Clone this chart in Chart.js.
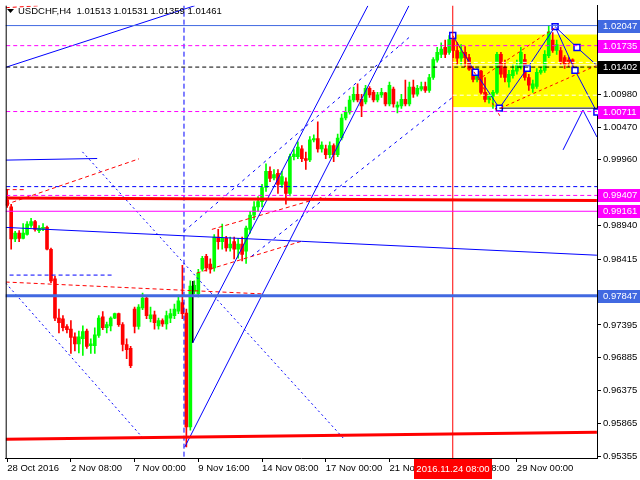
<!DOCTYPE html>
<html>
<head>
<meta charset="utf-8">
<script src="https://cdn.jsdelivr.net/npm/chart.js@4.4.0/dist/chart.umd.min.js"></script>
<style>
  html, body { margin: 0; padding: 0; background: #fff; }
</style>
</head>
<body>
<canvas id="chart" width="640" height="480"></canvas>
<script>
const symbolName = 'USDCHF,H4';

const opens = [
  0.9934, 0.9923, 0.9873, 0.9882, 0.9874, 0.9880, 0.9894, 0.9900, 0.9886, 0.9888,
  0.9891, 0.9857, 0.9811, 0.9750, 0.9749, 0.9737, 0.9733, 0.9721, 0.9710, 0.9718,
  0.9730, 0.9707, 0.9707, 0.9723, 0.9752, 0.9735, 0.9738, 0.9750, 0.9757, 0.9740,
  0.9709, 0.9703, 0.9764, 0.9737, 0.9766, 0.9781, 0.9749, 0.9755, 0.9738, 0.9746,
  0.9741, 0.9750, 0.9754, 0.9761, 0.9774, 0.9758, 0.9581, 0.9792, 0.9788, 0.9826,
  0.9846, 0.9834, 0.9828, 0.9876, 0.9869, 0.9874, 0.9859, 0.9869, 0.9857, 0.9865,
  0.9854, 0.9888, 0.9910, 0.9923, 0.9931, 0.9953, 0.9978, 0.9968, 0.9975, 0.9958,
  0.9962, 0.9944, 1.0001, 1.0001, 1.0013, 0.9998, 0.9996, 1.0027, 1.0029, 1.0013,
  1.0013, 1.0004, 1.0018, 1.0004, 1.0030, 1.0061, 1.0070, 1.0089, 1.0098, 1.0090,
  1.0086, 1.0107, 1.0101, 1.0089, 1.0097, 1.0100, 1.0083, 1.0106, 1.0078, 1.0080,
  1.0090, 1.0083, 1.0109, 1.0098, 1.0106, 1.0110, 1.0104, 1.0124, 1.0151, 1.0160,
  1.0171, 1.0163, 1.0183, 1.0166, 1.0154, 1.0163, 1.0155, 1.0137, 1.0121, 1.0134,
  1.0101, 1.0090, 1.0095, 1.0101, 1.0160, 1.0140, 1.0117, 1.0127, 1.0134, 1.0140,
  1.0152, 1.0124, 1.0107, 1.0110, 1.0132, 1.0135, 1.0158, 1.0182, 1.0166, 1.0166,
  1.0155, 1.0151, 1.01513
];
const highs = [
  0.9950, 0.9927, 0.9885, 0.9886, 0.9897, 0.9900, 0.9905, 0.9902, 0.9894, 0.9897,
  0.9893, 0.9859, 0.9815, 0.9764, 0.9754, 0.9740, 0.9746, 0.9727, 0.9730, 0.9738,
  0.9733, 0.9718, 0.9735, 0.9754, 0.9760, 0.9744, 0.9752, 0.9758, 0.9758, 0.9743,
  0.9718, 0.9706, 0.9767, 0.9771, 0.9789, 0.9783, 0.9767, 0.9761, 0.9750, 0.9749,
  0.9761, 0.9764, 0.9772, 0.9786, 0.9832, 0.9764, 0.9808, 0.9808, 0.9826, 0.9846,
  0.9849, 0.9842, 0.9880, 0.9888, 0.9896, 0.9877, 0.9876, 0.9876, 0.9874, 0.9876,
  0.9893, 0.9916, 0.9931, 0.9939, 0.9958, 0.9990, 0.9985, 0.9981, 0.9981, 0.9978,
  0.9968, 1.0005, 1.0012, 1.0024, 1.0018, 1.0008, 1.0032, 1.0035, 1.0055, 1.0024,
  1.0019, 1.0024, 1.0021, 1.0036, 1.0067, 1.0078, 1.0095, 1.0109, 1.0114, 1.0098,
  1.0112, 1.0110, 1.0104, 1.0101, 1.0107, 1.0101, 1.0117, 1.0109, 1.0086, 1.0098,
  1.0120, 1.0117, 1.0120, 1.0112, 1.0117, 1.0117, 1.0129, 1.0155, 1.0171, 1.0178,
  1.0182, 1.0189, 1.0191, 1.0178, 1.0175, 1.0172, 1.0160, 1.0141, 1.0138, 1.0135,
  1.0124, 1.0098, 1.0104, 1.0163, 1.0163, 1.0151, 1.0135, 1.0144, 1.0151, 1.0171,
  1.0160, 1.0129, 1.0120, 1.0138, 1.0140, 1.0166, 1.0205, 1.0194, 1.0182, 1.0171,
  1.0158, 1.0155, 1.01531
];
const lows = [
  0.9922, 0.9857, 0.9869, 0.9869, 0.9873, 0.9879, 0.9891, 0.9885, 0.9883, 0.9886,
  0.9856, 0.9805, 0.9746, 0.9727, 0.9730, 0.9727, 0.9695, 0.9699, 0.9696, 0.9692,
  0.9703, 0.9695, 0.9695, 0.9720, 0.9732, 0.9727, 0.9730, 0.9749, 0.9737, 0.9699,
  0.9687, 0.9673, 0.9727, 0.9733, 0.9763, 0.9749, 0.9744, 0.9733, 0.9733, 0.9737,
  0.9733, 0.9743, 0.9749, 0.9757, 0.9749, 0.9550, 0.9576, 0.9788, 0.9783, 0.9823,
  0.9823, 0.9820, 0.9823, 0.9857, 0.9857, 0.9854, 0.9854, 0.9842, 0.9843, 0.9839,
  0.9835, 0.9882, 0.9903, 0.9916, 0.9923, 0.9947, 0.9962, 0.9965, 0.9944, 0.9953,
  0.9927, 0.9940, 0.9996, 0.9998, 0.9993, 0.9981, 0.9993, 1.0024, 1.0008, 1.0008,
  0.9998, 0.9999, 0.9993, 1.0001, 1.0027, 1.0058, 1.0067, 1.0086, 1.0086, 1.0063,
  1.0083, 1.0093, 1.0086, 1.0086, 1.0093, 1.0080, 1.0080, 1.0078, 1.0069, 1.0076,
  1.0080, 1.0080, 1.0093, 1.0095, 1.0103, 1.0101, 1.0101, 1.0121, 1.0148, 1.0155,
  1.0155, 1.0160, 1.0155, 1.0144, 1.0143, 1.0141, 1.0135, 1.0117, 1.0117, 1.0098,
  1.0086, 1.0084, 1.0076, 1.0098, 1.0124, 1.0117, 1.0109, 1.0123, 1.0129, 1.0137,
  1.0120, 1.0104, 1.0101, 1.0107, 1.0129, 1.0132, 1.0155, 1.0163, 1.0160, 1.0144,
  1.0138, 1.0141, 1.01359
];
const closes = [
  0.9925, 0.9873, 0.9882, 0.9874, 0.9882, 0.9896, 0.9900, 0.9888, 0.9890, 0.9891,
  0.9857, 0.9808, 0.9750, 0.9743, 0.9735, 0.9732, 0.9720, 0.9710, 0.9721, 0.9729,
  0.9706, 0.9710, 0.9724, 0.9750, 0.9735, 0.9740, 0.9750, 0.9757, 0.9740, 0.9709,
  0.9701, 0.9676, 0.9737, 0.9767, 0.9781, 0.9754, 0.9755, 0.9743, 0.9746, 0.9741,
  0.9754, 0.9757, 0.9764, 0.9777, 0.9757, 0.9581, 0.9800, 0.9801, 0.9820, 0.9843,
  0.9828, 0.9826, 0.9876, 0.9869, 0.9874, 0.9859, 0.9865, 0.9857, 0.9865, 0.9849,
  0.9890, 0.9910, 0.9923, 0.9931, 0.9953, 0.9978, 0.9967, 0.9973, 0.9958, 0.9970,
  0.9944, 1.0001, 1.0005, 1.0016, 0.9998, 0.9995, 1.0027, 1.0029, 1.0013, 1.0019,
  1.0004, 1.0018, 1.0004, 1.0030, 1.0061, 1.0070, 1.0089, 1.0098, 1.0089, 1.0080,
  1.0107, 1.0097, 1.0089, 1.0097, 1.0101, 1.0083, 1.0112, 1.0083, 1.0081, 1.0090,
  1.0083, 1.0109, 1.0098, 1.0107, 1.0110, 1.0104, 1.0124, 1.0152, 1.0163, 1.0168,
  1.0160, 1.0183, 1.0166, 1.0154, 1.0163, 1.0155, 1.0137, 1.0121, 1.0134, 1.0101,
  1.0090, 1.0095, 1.0101, 1.0160, 1.0129, 1.0124, 1.0129, 1.0135, 1.0143, 1.0163,
  1.0124, 1.0112, 1.0114, 1.0132, 1.0135, 1.0160, 1.0195, 1.0166, 1.0175, 1.0148,
  1.0144, 1.0148, 1.01461
];

// time axis: bar index of each label
const xTickIdx = [0, 16, 32, 48, 64, 80, 96, 112, 128];
const xTickLabels = ['28 Oct 2016', '2 Nov 08:00', '7 Nov 00:00', '9 Nov 16:00', '14 Nov 08:00',
  '17 Nov 00:00', '21 Nov 16:00', '24 Nov 08:00', '29 Nov 00:00'];
const yTickValues = [1.00980, 1.00470, 0.99960, 0.98940, 0.98415, 0.97395, 0.96885, 0.96375, 0.95865, 0.95355];
const priceRange = [0.95326, 1.02356];
const barRange = [-0.375, 148.125];

// marked price levels shown in boxes on the price axis
const levelBlue = [1.02047, 0.97847];
const levelMagenta = [1.01735, 1.00711, 0.99407, 0.99161];
const levelBlack = [1.01402];
const selectedBar = 112;
const selectedLabel = '2016.11.24 08:00';

// drawn objects, [bar index, price]
const zoneBox = [[111.9, 1.01908], [150, 1.00780]];
const zigMain = [[111.9, 1.01892], [117.6, 1.01321], [123.6, 1.00764], [130.6, 1.01382], [137.6, 1.02031], [142.6, 1.01351], [148.1, 1.00703]];
const zigAlt = [[137.6, 1.02031], [143.1, 1.01707], [148.1, 1.01429]];
const zigLow = [[139.6, 1.00115], [144.6, 1.00733], [148.1, 1.00316]];
const zoneFloor = [[123.6, 1.00764], [150, 1.00764]];
const zoneWhite = [1.01475, 1.01436, 1.00965];
const trendL1 = [[-0.375, 1.01398], [47.1, 1.02356]];
const trendL2 = [[-0.375, 0.99956], [22.6, 0.99981]];
const trendL3 = [[-0.375, 0.98910], [148.1, 0.98478]];
const trendA = [[46.6, 0.97118], [90.6, 1.02356]];
const trendB = [[44.6, 0.95496], [100.9, 1.02356]];
const stemBlack = [[46.6, 0.98076], [46.6, 0.97118]];
const redTrend = [[-0.375, 0.99366], [148.1, 0.99327]];
const redBase = [[-0.375, 0.95619], [148.1, 0.95728]];
const dotD1 = [[-0.375, 0.98045], [33.9, 0.95650]];
const dotD2 = [[18.9, 1.00084], [84.4, 0.95635]];
const dashD3 = [[44.4, 0.98849], [100.9, 1.01861]];
const dashD4 = [[61.4, 0.98462], [111.9, 1.00934]];
const dashShort = [[0.6, 0.98169], [26.9, 0.98169]];
const dashLevel = [0.99544];
const redR0 = [[-0.375, 0.99497], [4.6, 0.99497]];
const redR1 = [[-0.375, 0.99266], [33.1, 0.99976]];
const redR2 = [[47.6, 0.98200], [73.9, 0.98694]];
const redR3 = [[51.4, 0.98879], [78.9, 0.99374]];
const redR4 = [[-0.375, 0.98061], [64.6, 0.97875]];
const redTop = [[-0.375, 1.02325], [8.1, 1.02356]];
const redR8 = [[111.9, 1.01892], [123.9, 1.00625]];
const redR9 = [[123.9, 1.00764], [148.1, 1.01429]];
const redR10 = [[118.1, 1.01197], [137.6, 1.02016]];
const vBlueIdx = 44.4;

const UP = '#00ff00', DOWN = '#ff0000';
const BLUE = '#0000ff', ROYAL = '#4169e1', MAGENTA = '#ff00ff';
const FONT = 'Liberation Sans, Arial, sans-serif';

function fmt(v) {
    return (v + 1e-9).toFixed(5);
}
function seg(points, color, width, dash) {
    return {
        type: 'line',
        data: points.map(p => ({ x: p[0], y: p[1] })),
        borderColor: color,
        borderWidth: width,
        borderDash: dash || [],
        pointRadius: 0,
        fill: false,
        tension: 0,
        order: 1
    };
}
function level(v, color, width, dash) {
    return seg([[-2, v], [151, v]], color, width, dash);
}
function vline(idx, color, width, dash) {
    return seg([[idx, 0.9], [idx, 1.1]], color, width, dash);
}

const bars = opens.map((_, i) => i);
const colors = bars.map(i => closes[i] >= opens[i] ? UP : DOWN);

const datasets = [
    {
        type: 'bar',
        data: bars.map(i => ({ x: i, y: [lows[i], highs[i]] })),
        backgroundColor: colors,
        barThickness: 1,
        grouped: false,
        order: 10
    },
    {
        type: 'bar',
        data: bars.map(i => ({ x: i, y: [Math.min(opens[i], closes[i]), Math.max(opens[i], closes[i])] })),
        backgroundColor: colors,
        barThickness: 3,
        grouped: false,
        order: 9
    },
    ...zoneWhite.map(v => seg([[111.9, v], [150, v]], '#ffffff', 1, v === zoneWhite[1] ? [] : [4, 3])),
    level(levelBlue[0], ROYAL, 1),
    level(levelMagenta[0], MAGENTA, 1, [4, 3]),
    level(levelBlack[0], '#000000', 1, [4, 3]),
    level(levelMagenta[1], MAGENTA, 1, [4, 3]),
    level(dashLevel[0], BLUE, 1, [4, 3]),
    level(levelMagenta[2], MAGENTA, 1, [4, 3]),
    level(levelMagenta[3], MAGENTA, 1),
    level(levelBlue[1], ROYAL, 3),
    seg(redTrend, DOWN, 3),
    seg(redBase, DOWN, 3),
    seg(trendL1, BLUE, 1),
    seg(trendL2, BLUE, 1),
    seg(trendL3, BLUE, 1),
    seg(trendA, BLUE, 1),
    seg(trendB, BLUE, 1),
    seg(stemBlack, '#000000', 1),
    seg(dotD1, BLUE, 1, [2, 3]),
    seg(dotD2, BLUE, 1, [2, 3]),
    seg(dashD3, BLUE, 1, [3, 4]),
    seg(dashD4, BLUE, 1, [3, 4]),
    seg(dashShort, BLUE, 1, [4, 3]),
    seg(redR0, DOWN, 1, [4, 3]),
    seg(redR1, DOWN, 1, [4, 3]),
    seg(redR2, DOWN, 1, [4, 3]),
    seg(redR3, DOWN, 1, [4, 3]),
    seg(redR4, DOWN, 1, [4, 3]),
    seg(redTop, DOWN, 1, [4, 3]),
    seg(redR8, DOWN, 1, [3, 3]),
    seg(redR9, DOWN, 1, [3, 3]),
    seg(redR10, DOWN, 1, [3, 3]),
    seg(zoneFloor, '#000000', 1),
    vline(vBlueIdx, BLUE, 1, [5, 3]),
    vline(selectedBar - 0.1, DOWN, 1),
    seg(zigLow, BLUE, 1),
    Object.assign(seg(zigAlt, BLUE, 1), {
        pointRadius: [0, 4.2, 0], pointStyle: 'rect',
        pointBackgroundColor: '#ffffff', pointBorderColor: BLUE, pointBorderWidth: 1.5, clip: 6
    }),
    Object.assign(seg(zigMain, BLUE, 1), {
        pointRadius: 4.2, pointStyle: 'rect',
        pointBackgroundColor: '#ffffff', pointBorderColor: BLUE, pointBorderWidth: 1.5, clip: 6
    })
];

const chartDecor = {
    id: 'chartDecor',
    beforeDatasetsDraw(chart) {
        const { ctx, scales: { x, y }, chartArea } = chart;
        const x0 = x.getPixelForValue(zoneBox[0][0]);
        const y0 = y.getPixelForValue(zoneBox[0][1]);
        const y1 = y.getPixelForValue(zoneBox[1][1]);
        ctx.save();
        ctx.fillStyle = '#ffff00';
        ctx.fillRect(x0, y0, chartArea.right - x0, y1 - y0);
        ctx.restore();
    },
    afterDraw(chart) {
        const { ctx, scales: { x, y }, chartArea } = chart;
        ctx.save();
        // frame on the left
        ctx.strokeStyle = '#000';
        ctx.lineWidth = 1;
        ctx.beginPath();
        ctx.moveTo(chartArea.left + 0.5, chartArea.top);
        ctx.lineTo(chartArea.left + 0.5, chartArea.bottom);
        ctx.stroke();

        // header
        ctx.fillStyle = '#000';
        ctx.beginPath();
        ctx.moveTo(7, 9); ctx.lineTo(14, 9); ctx.lineTo(10.5, 13);
        ctx.closePath();
        ctx.fill();
        const last = opens.length - 1;
        const ohlc = [opens[last], highs[last], lows[last], closes[last]].map(fmt).join(' ');
        ctx.font = '9.5px ' + FONT;
        ctx.textBaseline = 'middle';
        ctx.fillText(symbolName + '  ' + ohlc, 18, 11);

        // level boxes on the price axis
        const boxes = [
            ...levelBlue.map(v => [v, ROYAL]),
            ...levelMagenta.map(v => [v, MAGENTA]),
            ...levelBlack.map(v => [v, '#000000'])
        ];
        boxes.forEach(([v, c]) => {
            const py = Math.round(y.getPixelForValue(v));
            ctx.fillStyle = c;
            ctx.fillRect(chartArea.right + 1, py - 6, 43, 13);
            ctx.fillStyle = '#fff';
            ctx.fillText(fmt(v), chartArea.right + 6, py + 0.5);
        });

        // selected time box
        const sx = Math.round(x.getPixelForValue(selectedBar));
        ctx.fillStyle = '#ff0000';
        ctx.fillRect(sx - 39, chartArea.bottom + 1, 78, 20);
        ctx.fillStyle = '#fff';
        ctx.textAlign = 'center';
        ctx.fillText(selectedLabel, sx, chartArea.bottom + 11);
        ctx.restore();
    }
};

new Chart(document.getElementById('chart'), {
    type: 'bar',
    data: { datasets },
    options: {
        responsive: false,
        animation: false,
        layout: { padding: { left: 3, top: 3, right: 0, bottom: 0 } },
        plugins: { legend: { display: false }, tooltip: { enabled: false } },
        scales: {
            x: {
                type: 'linear',
                min: barRange[0],
                max: barRange[1],
                offset: false,
                grid: { display: true, offset: false, drawOnChartArea: false, drawTicks: true, tickLength: 4, color: '#000' },
                border: { display: true, color: '#000' },
                afterBuildTicks: s => { s.ticks = xTickIdx.map(v => ({ value: v })); },
                afterFit: s => { s.height = 22; s.paddingLeft = 0; s.paddingRight = 0; },
                ticks: {
                    autoSkip: false, maxRotation: 0, minRotation: 0, align: 'start', padding: 1,
                    color: '#000', font: { family: FONT, size: 9.5 },
                    callback: (v, k) => xTickLabels[k]
                }
            },
            y: {
                position: 'right',
                min: priceRange[0],
                max: priceRange[1],
                beginAtZero: false,
                grid: { drawOnChartArea: false, drawTicks: true, tickLength: 4, color: '#000' },
                border: { display: true, color: '#000' },
                afterBuildTicks: s => { s.ticks = yTickValues.map(v => ({ value: v })); },
                afterFit: s => { s.width = 43; s.paddingTop = 0; s.paddingBottom = 0; },
                ticks: {
                    padding: 2, color: '#000', font: { family: FONT, size: 9.5 },
                    callback: v => fmt(Number(v))
                }
            }
        }
    },
    plugins: [chartDecor]
});
</script>
</body>
</html>
